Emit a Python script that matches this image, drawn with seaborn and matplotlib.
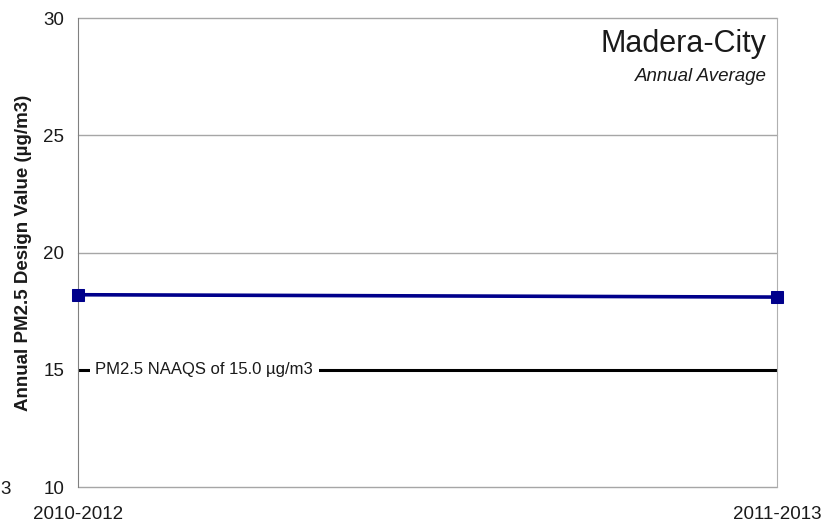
import pandas as pd
import seaborn as sns
import matplotlib.pyplot as plt

# Data
periods = ["2010-2012", "2011-2013"]
design_values = [18.2, 18.1]
naaqs = 15.0
y_ticks = [10, 15, 20, 25, 30]

df = pd.DataFrame({"period": periods, "value": design_values})

sns.set_style("white")
plt.rcParams["font.family"] = ["Liberation Sans", "DejaVu Sans"]
plt.rcParams["text.color"] = "#1a1a1a"
plt.rcParams["axes.labelcolor"] = "#1a1a1a"
plt.rcParams["xtick.labelcolor"] = "#1a1a1a"
plt.rcParams["ytick.labelcolor"] = "#1a1a1a"

fig = plt.figure(figsize=(8.33, 5.22), dpi=100)
ax = fig.add_axes([0.0936, 0.067, 0.8392, 0.8985])

# horizontal gridlines
for yv in y_ticks:
    ax.axhline(yv, color="#a6a6a6", lw=1.0, zorder=0, clip_on=False)

# NAAQS standard line
ax.axhline(naaqs, color="black", lw=2.2, zorder=2)
ax.text(0.025, naaqs, "PM2.5 NAAQS of 15.0 µg/m3", fontsize=12, va="center",
        ha="left", bbox=dict(facecolor="white", edgecolor="none", pad=4), zorder=3)

# design value series
sns.lineplot(data=df, x="period", y="value", ax=ax, color="#00008b", lw=2.6,
             marker="s", markersize=8, markeredgecolor="#00008b", zorder=4,
             clip_on=False)

ax.set_xlim(0, 1)
ax.set_ylim(10, 30)
ax.set_yticks(y_ticks)
ax.set_xticks([0, 1])
ax.set_xticklabels(periods)
ax.tick_params(axis="y", length=6, color="#808080", labelsize=13.5, pad=4)
ax.tick_params(axis="x", length=0, labelsize=13.5, pad=14)
ax.set_xlabel("")
ax.set_ylabel("Annual PM2.5 Design Value (µg/m3)", fontsize=13.5,
              fontweight="bold", labelpad=8)

for side in ["top", "bottom"]:
    ax.spines[side].set_visible(False)
ax.spines["left"].set_color("#808080")
ax.spines["right"].set_color("#b0b0b0")

ax.text(0.985, 0.945, "Madera-City", transform=ax.transAxes, ha="right",
        va="center", fontsize=22)
ax.text(0.985, 0.875, "Annual Average", transform=ax.transAxes, ha="right",
        va="center", fontsize=13.5, style="italic")

fig.text(0.001, 0.062, "3", fontsize=13.5, va="center")

fig.savefig("out.png", dpi=100)
